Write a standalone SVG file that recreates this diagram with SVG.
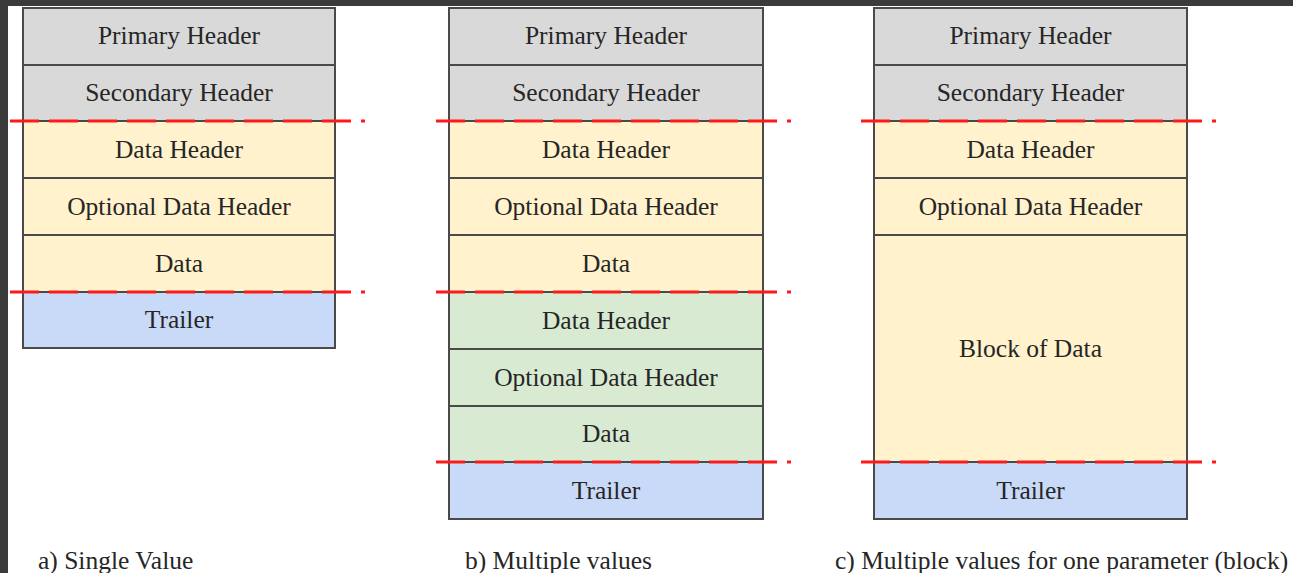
<svg xmlns="http://www.w3.org/2000/svg" width="1293" height="573" viewBox="0 0 1293 573">
  <style>
    .cell { stroke: #4a4a4a; stroke-width: 2; }
    .grey { fill: #d9d9d9; }
    .yellow { fill: #fff2cc; }
    .green { fill: #d9ead3; }
    .blue { fill: #c9daf8; }
    .label { font-family: "Liberation Serif", "Times New Roman", serif; font-size: 25.5px; fill: #262626; text-anchor: middle; }
    .caption { font-family: "Liberation Serif", "Times New Roman", serif; font-size: 25.5px; fill: #262626; }
    .split { stroke: #ff1a1a; stroke-width: 3; stroke-dasharray: 29 10; fill: none; }
  </style>

  <rect x="0" y="0" width="1293" height="573" fill="#ffffff"/>
  <!-- frame strips -->
  <rect x="0" y="0" width="1293" height="6" fill="#3b3b3b"/>
  <rect x="0" y="0" width="8" height="573" fill="#3b3b3b"/>

  <!-- a) single value -->
  <g id="a-primary-header"><rect class="cell grey" x="23" y="8" width="312" height="57"/><text class="label" x="179" y="44">Primary Header</text></g>
  <g id="a-secondary-header"><rect class="cell grey" x="23" y="65" width="312" height="56"/><text class="label" x="179" y="101">Secondary Header</text></g>
  <g id="a-data-header"><rect class="cell yellow" x="23" y="121" width="312" height="57"/><text class="label" x="179" y="158">Data Header</text></g>
  <g id="a-optional-data-header"><rect class="cell yellow" x="23" y="178" width="312" height="57"/><text class="label" x="179" y="215">Optional Data Header</text></g>
  <g id="a-data"><rect class="cell yellow" x="23" y="235" width="312" height="57"/><text class="label" x="179" y="272">Data</text></g>
  <g id="a-trailer"><rect class="cell blue" x="23" y="292" width="312" height="56"/><text class="label" x="179" y="328">Trailer</text></g>

  <!-- b) multiple values -->
  <g id="b-primary-header"><rect class="cell grey" x="449" y="8" width="314" height="57"/><text class="label" x="606" y="44">Primary Header</text></g>
  <g id="b-secondary-header"><rect class="cell grey" x="449" y="65" width="314" height="56"/><text class="label" x="606" y="101">Secondary Header</text></g>
  <g id="b-data-header-1"><rect class="cell yellow" x="449" y="121" width="314" height="57"/><text class="label" x="606" y="158">Data Header</text></g>
  <g id="b-optional-data-header-1"><rect class="cell yellow" x="449" y="178" width="314" height="57"/><text class="label" x="606" y="215">Optional Data Header</text></g>
  <g id="b-data-1"><rect class="cell yellow" x="449" y="235" width="314" height="57"/><text class="label" x="606" y="272">Data</text></g>
  <g id="b-data-header-2"><rect class="cell green" x="449" y="292" width="314" height="57"/><text class="label" x="606" y="329">Data Header</text></g>
  <g id="b-optional-data-header-2"><rect class="cell green" x="449" y="349" width="314" height="57"/><text class="label" x="606" y="386">Optional Data Header</text></g>
  <g id="b-data-2"><rect class="cell green" x="449" y="406" width="314" height="56"/><text class="label" x="606" y="442">Data</text></g>
  <g id="b-trailer"><rect class="cell blue" x="449" y="462" width="314" height="57"/><text class="label" x="606" y="499">Trailer</text></g>

  <!-- c) block of values -->
  <g id="c-primary-header"><rect class="cell grey" x="874" y="8" width="313" height="57"/><text class="label" x="1030.5" y="44">Primary Header</text></g>
  <g id="c-secondary-header"><rect class="cell grey" x="874" y="65" width="313" height="56"/><text class="label" x="1030.5" y="101">Secondary Header</text></g>
  <g id="c-data-header"><rect class="cell yellow" x="874" y="121" width="313" height="57"/><text class="label" x="1030.5" y="158">Data Header</text></g>
  <g id="c-optional-data-header"><rect class="cell yellow" x="874" y="178" width="313" height="57"/><text class="label" x="1030.5" y="215">Optional Data Header</text></g>
  <g id="c-block-of-data"><rect class="cell yellow" x="874" y="235" width="313" height="227"/><text class="label" x="1030.5" y="357">Block of Data</text></g>
  <g id="c-trailer"><rect class="cell blue" x="874" y="462" width="313" height="57"/><text class="label" x="1030.5" y="499">Trailer</text></g>

  <!-- section boundaries -->
  <g id="connectors">
    <line class="split" x1="10" y1="121" x2="365" y2="121"/>
    <line class="split" x1="10" y1="292" x2="365" y2="292"/>
    <line class="split" x1="436" y1="121" x2="791" y2="121"/>
    <line class="split" x1="436" y1="292" x2="791" y2="292"/>
    <line class="split" x1="436" y1="462" x2="791" y2="462"/>
    <line class="split" x1="861" y1="121" x2="1216" y2="121"/>
    <line class="split" x1="861" y1="462" x2="1216" y2="462"/>
  </g>

  <!-- captions -->
  <text class="caption" x="38" y="569">a) Single Value</text>
  <text class="caption" x="465" y="569">b) Multiple values</text>
  <text class="caption" x="835" y="569">c) Multiple values for one parameter (block)</text>
</svg>
